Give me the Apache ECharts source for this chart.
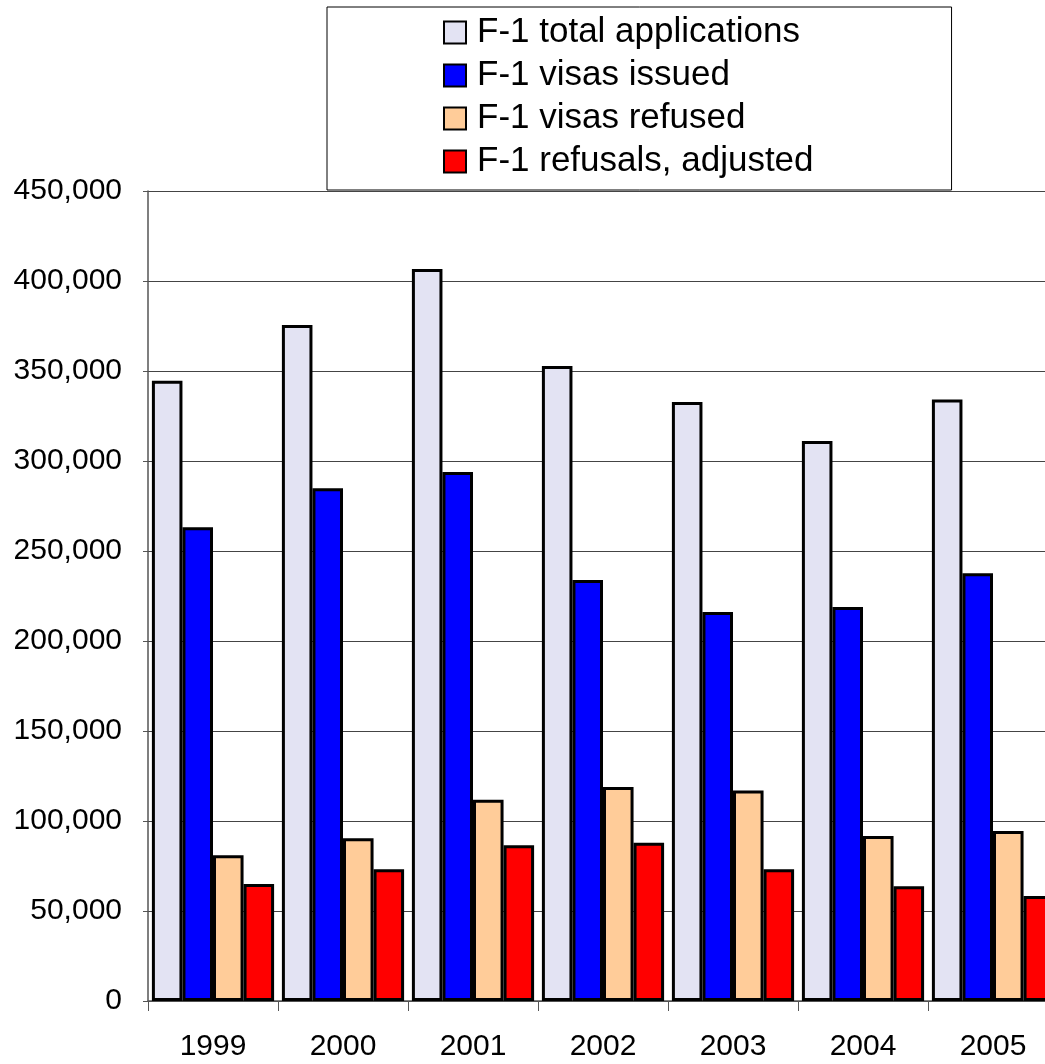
<!DOCTYPE html>
<html>
<head>
<meta charset="utf-8">
<script src="https://cdn.jsdelivr.net/npm/echarts@6/dist/echarts.min.js"></script>
<style>html,body{margin:0;padding:0;background:#fff;overflow:hidden}#c{width:1045px;height:1064px}</style>
</head>
<body>
<div id="c"></div>
<script>
const years = ['1999','2000','2001','2002','2003','2004','2005'];
const totalApplications = [344600, 375600, 406700, 352800, 332800, 311100, 334100];
const visasIssued = [263200, 284800, 293900, 233900, 216100, 218900, 237600];
const visasRefused = [81000, 90400, 111800, 118900, 117000, 91700, 94400];
const refusalsAdjusted = [65000, 73200, 86500, 87900, 73200, 63700, 58300];
const seriesNames = ['F-1 total applications','F-1 visas issued','F-1 visas refused','F-1 refusals, adjusted'];
const seriesColors = ['#e3e3f3','#0000ff','#ffcc99','#ff0000'];
const seriesData = [totalApplications, visasIssued, visasRefused, refusalsAdjusted];

const chart = echarts.init(document.getElementById('c'), null, {renderer:'canvas'});
const font = 'Liberation Sans, Arial, sans-serif';
chart.setOption({
  animation: false,
  backgroundColor: '#fff',
  textStyle: {fontFamily: font},
  legend: {
    orient: 'vertical',
    left: 327, top: 7,
    padding: [8, 138, 11, 116],
    itemGap: 8,
    itemWidth: 22, itemHeight: 22,
    icon: 'rect',
    borderColor: '#000', borderWidth: 1,
    backgroundColor: '#fff',
    textStyle: {fontSize: 35, color: '#000', fontFamily: font, padding: [0,0,0,6]},
    data: seriesNames,
    selectedMode: false
  },
  grid: {left: 148, top: 191, width: 910, bottom: 63, containLabel: false, outerBoundsMode: 'none'},
  xAxis: {
    type: 'category', data: years,
    axisLine: {lineStyle: {color: '#555', width: 1.5}},
    axisTick: {show: true, length: 10, lineStyle: {color: '#555'}},
    axisLabel: {fontSize: 30, color: '#000', margin: 31, fontFamily: font}
  },
  yAxis: {
    type: 'value', min: 0, max: 450000, interval: 50000,
    axisLine: {show: true, lineStyle: {color: '#555', width: 1.5}},
    axisTick: {show: true, length: 5, inside: false, lineStyle: {color: '#555'}},
    axisLabel: {fontSize: 30, color: '#000', margin: 26, fontFamily: font,
      formatter: v => v.toLocaleString('en-US')},
    splitLine: {lineStyle: {color: '#444', width: 1}}
  },
  series: seriesNames.map((n, i) => ({
    name: n, type: 'bar', data: seriesData[i],
    barGap: '0%', barCategoryGap: '6%',
    itemStyle: {color: seriesColors[i], borderColor: '#000', borderWidth: 3}
  }))
});
</script>
</body>
</html>
